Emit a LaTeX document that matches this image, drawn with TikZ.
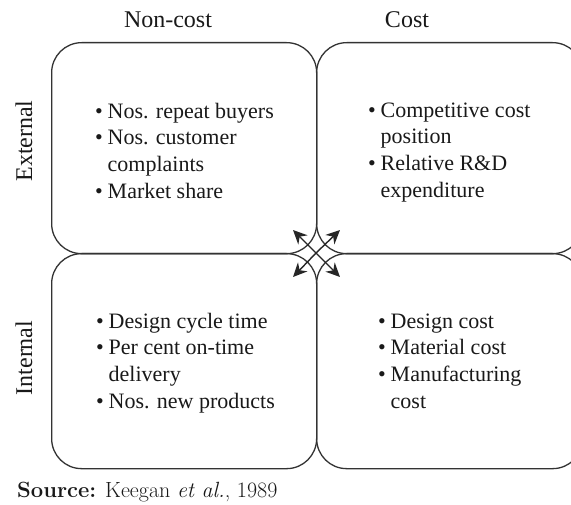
\documentclass[tikz,border=0pt]{standalone}
\usepackage{fontspec}
\newfontfamily\tnr{Liberation Serif}
\usetikzlibrary{arrows.meta}
\newcommand{\bi}{\makebox[12.5pt][l]{\textbullet}}
\newcommand{\ci}{\hspace*{12.5pt}}
\begin{document}
\begin{tikzpicture}[x=1pt,y=-1pt,
  quad/.style={draw=black!80, line width=1.3pt, rounded corners=30pt,
    minimum width=266pt, anchor=north west, inner sep=0pt},
  items/.style={anchor=north west, inner sep=0pt, align=left,
    font=\tnr\fontsize{22}{26.7}\selectfont, text=black!90},
  hdr/.style={inner sep=0pt, font=\tnr\fontsize{24}{28}\selectfont, text=black!90},
  arr/.style={draw=black!85, line width=1.4pt, -{Stealth[length=14pt,width=13pt]}}]
\useasboundingbox (0,0) rectangle (571,505);
\clip (0,0) rectangle (571,505);
\fill[white] (0,0) rectangle (571,505);
% quadrants
\node[quad, minimum width=265pt, minimum height=211pt] (tl) at (51,42) {};
\node[quad, minimum height=211pt] (tr) at (316,42) {};
\node[quad, minimum width=265pt, minimum height=215pt] (bl) at (51,253) {};
\node[quad, minimum height=215pt] (br) at (316,253) {};
% headers
\node[hdr, anchor=base] (h1) at (168,28) {Non-cost};
\node[hdr, anchor=base] (h2) at (407,28) {Cost};
\node[hdr, rotate=90] (s1) at (24,141) {External};
\node[hdr, rotate=90] (s2) at (24,358) {Internal};
% items
\node[items] (i1) at (95,99.3) {\strut\bi Nos. repeat buyers\\ \bi Nos. customer\\ \ci complaints\\ \bi Market share};
\node[items] (i2) at (368,98.3) {\strut\bi Competitive cost\\ \ci position\\ \bi Relative R\&D\\ \ci expenditure};
\node[items] (i3) at (96,309.3) {\strut\bi Design cycle time\\ \bi Per cent on-time\\ \ci delivery\\ \bi Nos. new products};
\node[items] (i4) at (378,309.3) {\strut\bi Design cost\\ \bi Material cost\\ \bi Manufacturing\\ \ci cost};
% centre arrows
\coordinate (c) at (316,253);
\coordinate (a1) at (293,230);
\coordinate (a2) at (340,230);
\coordinate (a3) at (293,277);
\coordinate (a4) at (340,277);
\draw[arr] (c) -- (a1);
\draw[arr] (c) -- (a2);
\draw[arr] (c) -- (a3);
\draw[arr] (c) -- (a4);
% source
\node[anchor=base west, inner sep=0pt, font=\fontsize{22}{26}\selectfont, text=black!90] (src) at (17,497) {\textbf{Source:} Keegan \textit{et al.}, 1989};
\end{tikzpicture}
\end{document}
